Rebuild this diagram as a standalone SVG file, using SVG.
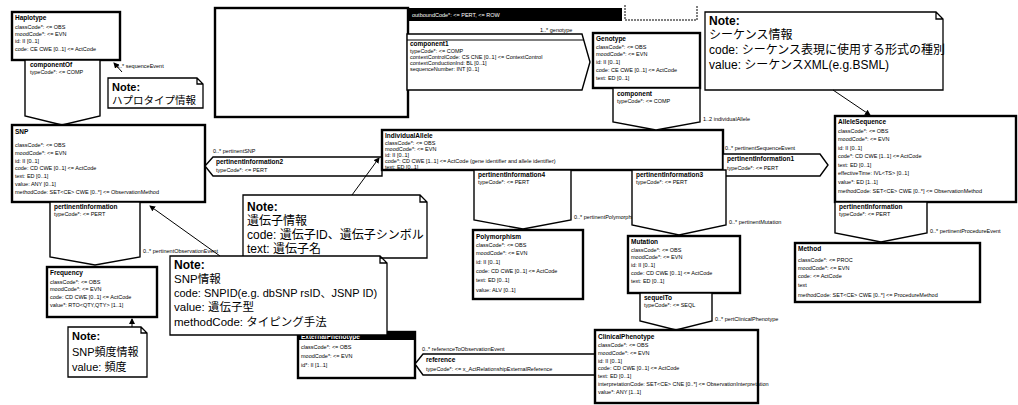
<svg xmlns="http://www.w3.org/2000/svg" width="1018" height="405" viewBox="0 0 1018 405">
<style>
.box{fill:#fff;stroke:#000;stroke-width:2.4}
.arr{fill:#fff;stroke:#000;stroke-width:1.4}
.note{fill:#fff;stroke:#000;stroke-width:1.3}
.t{font-family:"Liberation Sans",sans-serif;font-size:5.5px;fill:#000}
.b{font-family:"Liberation Sans",sans-serif;font-size:6.5px;font-weight:bold;fill:#000}
.nt{font-family:"Liberation Sans","Noto Sans CJK JP",sans-serif;font-size:12px;fill:#000}
.nb{font-family:"Liberation Sans",sans-serif;font-size:12px;font-weight:bold;fill:#000}
.ln{fill:none;stroke:#000;stroke-width:1}
</style>
<defs>
<marker id="ah" markerWidth="6" markerHeight="6" refX="5" refY="3" orient="auto" markerUnits="userSpaceOnUse"><path d="M0,0 L6,3 L0,6 Z" fill="#000"/></marker>
</defs>

<g id="choiceBox">
<rect class="box" x="215" y="8" width="193" height="109"/>
</g>

<g id="topBar">
<rect x="408" y="8" width="214" height="13" fill="#000"/>
<text class="t" x="412" y="16.5" style="fill:#fff">outboundCode*: &lt;= PERT, &lt;= ROW</text>
<path class="ln" d="M625,5 V20 H697 V5" stroke-dasharray="2,1"/>
</g>

<g id="component1">
<polygon class="arr" points="407,34 582,34 590,62 582,90 407,90"/>
<line class="ln" x1="407" y1="40" x2="584" y2="40"/>
<text class="t" x="540" y="32">1..* genotype</text>
<text class="b" x="410" y="46">component1</text>
<text class="t" x="410" y="53">typeCode*: &lt;= COMP</text>
<text class="t" x="410" y="59">contextControlCode: CS CNE [0..1] &lt;= ContextControl</text>
<text class="t" x="410" y="65">contextConductionInd: BL [0..1]</text>
<text class="t" x="410" y="71">sequenceNumber: INT [0..1]</text>
</g>

<g id="Haplotype">
<rect class="box" x="12" y="12" width="108" height="48"/>
<text class="b" x="15" y="20">Haplotype</text>
<text class="t" x="15" y="29">classCode*: &lt;= OBS</text>
<text class="t" x="15" y="36">moodCode*: &lt;= EVN</text>
<text class="t" x="15" y="43">id: II [0..1]</text>
<text class="t" x="15" y="51">code: CE CWE [0..1] &lt;= ActCode</text>
</g>

<g id="componentOf">
<polygon class="arr" points="25,60 100,60 100,116 62,125 25,116"/>
<text class="b" x="30" y="67">componentOf</text>
<text class="t" x="30" y="74">typeCode*: &lt;= COMP</text>
<text class="t" x="116" y="68">0..* sequenceEvent</text>
</g>

<g id="noteHaplotype">
<path class="note" d="M108,78 H197 L203,84 V108 H108 Z M197,78 V84 H203"/>
<text class="nb" x="112" y="91" style="font-size:11px">Note:</text>
<text class="nt" x="112" y="104" style="font-size:10.5px">ハプロタイプ情報</text>
</g>

<g id="SNP">
<rect class="box" x="12" y="125" width="193" height="77"/>
<text class="b" x="15" y="134">SNP</text>
<text class="t" x="15" y="147">classCode*: &lt;= OBS</text>
<text class="t" x="15" y="155">moodCode*: &lt;= EVN</text>
<text class="t" x="15" y="163">id: II [0..1]</text>
<text class="t" x="15" y="170">code: CD CWE [0..1] &lt;= ActCode</text>
<text class="t" x="15" y="178">text: ED [0..1]</text>
<text class="t" x="15" y="186">value: ANY [0..1]</text>
<text class="t" x="15" y="194">methodCode: SET&lt;CE&gt; CWE [0..*] &lt;= ObservationMethod</text>
</g>

<g id="pertinentInformation">
<polygon class="arr" points="50,202 140,202 140,257 95,265 50,257"/>
<text class="b" x="54" y="209">pertinentInformation</text>
<text class="t" x="54" y="216">typeCode*: &lt;= PERT</text>
<text class="t" x="143" y="253">0..* pertinentObservationEvent</text>
</g>

<g id="Frequency">
<rect class="box" x="47" y="267" width="110" height="50"/>
<text class="b" x="50" y="275">Frequency</text>
<text class="t" x="50" y="284">classCode*: &lt;= OBS</text>
<text class="t" x="50" y="291">moodCode*: &lt;= EVN</text>
<text class="t" x="50" y="299">code: CD CWE [0..1] &lt;= ActCode</text>
<text class="t" x="50" y="307">value*: RTO&lt;QTY,QTY&gt; [1..1]</text>
</g>

<g id="noteFrequency">
<path class="note" d="M68,327 H141 L147,333 V377 H68 Z M141,327 V333 H147"/>
<text class="nb" x="72" y="340" style="font-size:11px">Note:</text>
<text class="nt" x="72" y="356" style="font-size:11px">SNP頻度情報</text>
<text class="nt" x="72" y="371" style="font-size:11px">value: 頻度</text>
</g>

<g id="pertinentInformation2">
<polygon class="arr" points="205,166 213,157 382,157 382,176 213,176"/>
<text class="t" x="213" y="153">0..* pertinentSNP</text>
<text class="b" x="216" y="164">pertinentInformation2</text>
<text class="t" x="216" y="172">typeCode*: &lt;= PERT</text>
</g>

<g id="IndividualAllele">
<rect class="box" x="382" y="130" width="341" height="40"/>
<text class="b" x="385" y="138">IndividualAllele</text>
<text class="t" x="385" y="145">classCode*: &lt;= OBS</text>
<text class="t" x="385" y="151">moodCode*: &lt;= EVN</text>
<text class="t" x="385" y="157">id: II [0..1]</text>
<text class="t" x="385" y="163">code*: CD CWE [1..1] &lt;= ActCode (gene identifier and allele identifier)</text>
<text class="t" x="385" y="169">text: ED [0..1]</text>
</g>

<g id="noteGene">
<path class="note" d="M243,195 H420 L427,202 V258 H243 Z M420,195 V202 H427"/>
<text class="nb" x="247" y="211">Note:</text>
<text class="nt" x="247" y="225">遺伝子情報</text>
<text class="nt" x="247" y="239">code: 遺伝子ID、遺伝子シンボル</text>
<text class="nt" x="247" y="253">text: 遺伝子名</text>
</g>

<g id="ExternalPhenotype">
<rect class="box" x="298" y="332" width="117" height="46"/>
<rect x="298" y="332" width="117" height="8" fill="#000"/>
<text class="b" x="301" y="338.5" style="fill:#fff">ExternalPhenotype</text>
<text class="t" x="301" y="349">classCode*: &lt;= OBS</text>
<text class="t" x="301" y="358">moodCode*: &lt;= EVN</text>
<text class="t" x="301" y="367">id*: II [1..1]</text>
</g>

<g id="noteSNP">
<path class="note" d="M170,256 H380 L387,263 V335 H170 Z M380,256 V263 H387"/>
<text class="nb" x="174" y="269">Note:</text>
<text class="nt" x="174" y="283" style="font-size:11.5px">SNP情報</text>
<text class="nt" x="174" y="297" style="font-size:11px">code: SNPID(e.g. dbSNP rsID、JSNP ID)</text>
<text class="nt" x="174" y="311" style="font-size:11.5px">value: 遺伝子型</text>
<text class="nt" x="174" y="326" style="font-size:11.5px">methodCode: タイピング手法</text>
</g>

<g id="reference">
<polygon class="arr" points="415,364 423,354 595,354 595,375 423,375"/>
<text class="t" x="422" y="351">0..* referenceToObservationEvent</text>
<text class="b" x="426" y="362">reference</text>
<text class="t" x="426" y="371">typeCode*: &lt;= x_ActRelationshipExternalReference</text>
</g>

<g id="Genotype">
<rect class="box" x="593" y="33" width="107" height="55"/>
<text class="b" x="596" y="41">Genotype</text>
<text class="t" x="596" y="49">classCode*: &lt;= OBS</text>
<text class="t" x="596" y="56">moodCode*: &lt;= EVN</text>
<text class="t" x="596" y="64">id: II [0..1]</text>
<text class="t" x="596" y="72">code: CE CWE [0..1] &lt;= ActCode</text>
<text class="t" x="596" y="80">text: ED [0..1]</text>
</g>

<g id="component">
<polygon class="arr" points="613,88 700,88 700,122 656,130 613,122"/>
<text class="b" x="617" y="96">component</text>
<text class="t" x="617" y="103">typeCode*: &lt;= COMP</text>
<text class="t" x="703" y="121">1..2 individualAllele</text>
</g>

<g id="noteSequence">
<path class="note" d="M705,12 H936 L943,19 V90 H705 Z M936,12 V19 H943"/>
<text class="nb" x="709" y="25">Note:</text>
<text class="nt" x="709" y="39">シーケンス情報</text>
<text class="nt" x="709" y="54">code: シーケンス表現に使用する形式の種別</text>
<text class="nt" x="709" y="69">value: シーケンスXML(e.g.BSML)</text>
</g>

<g id="pertinentInformation1">
<polygon class="arr" points="723,154 820,154 828,165 820,176 723,176"/>
<text class="t" x="725" y="150">0..* pertinentSequenceEvent</text>
<text class="b" x="727" y="161">pertinentInformation1</text>
<text class="t" x="727" y="170">typeCode*: &lt;= PERT</text>
</g>

<g id="AlleleSequence">
<rect class="box" x="835" y="116" width="181" height="86"/>
<text class="b" x="838" y="124">AlleleSequence</text>
<text class="t" x="838" y="133">classCode*: &lt;= OBS</text>
<text class="t" x="838" y="141">moodCode*: &lt;= EVN</text>
<text class="t" x="838" y="150">id: II [0..1]</text>
<text class="t" x="838" y="158">code*: CD CWE [1..1] &lt;= ActCode</text>
<text class="t" x="838" y="167">text: ED [0..1]</text>
<text class="t" x="838" y="175">effectiveTime: IVL&lt;TS&gt; [0..1]</text>
<text class="t" x="838" y="184">value*: ED [1..1]</text>
<text class="t" x="838" y="193">methodCode: SET&lt;CE&gt; CWE [0..*] &lt;= ObservationMethod</text>
</g>

<g id="pertinentInformationSeq">
<polygon class="arr" points="835,202 927,202 927,233 881,242 835,233"/>
<text class="b" x="839" y="209">pertinentInformation</text>
<text class="t" x="839" y="216">typeCode*: &lt;= PERT</text>
<text class="t" x="930" y="233">0..* pertinentProcedureEvent</text>
</g>

<g id="Method">
<rect class="box" x="795" y="243" width="185" height="59"/>
<text class="b" x="798" y="251">Method</text>
<text class="t" x="798" y="262">classCode*: &lt;= PROC</text>
<text class="t" x="798" y="270">moodCode*: &lt;= EVN</text>
<text class="t" x="798" y="278">code: &lt;= ActCode</text>
<text class="t" x="798" y="287">text</text>
<text class="t" x="798" y="297">methodCode: SET&lt;CE&gt; CWE [0..*] &lt;= ProcedureMethod</text>
</g>

<g id="pertinentInformation4">
<polygon class="arr" points="474,170 571,170 571,220 523,229 474,220"/>
<text class="b" x="478" y="177">pertinentInformation4</text>
<text class="t" x="478" y="184">typeCode*: &lt;= PERT</text>
<text class="t" x="574" y="219">0..* pertinentPolymorphism</text>
</g>

<g id="Polymorphism">
<rect class="box" x="473" y="230" width="110" height="69"/>
<text class="b" x="476" y="239">Polymorphism</text>
<text class="t" x="476" y="247">classCode*: &lt;= OBS</text>
<text class="t" x="476" y="255">moodCode*: &lt;= EVN</text>
<text class="t" x="476" y="264">id: II [0..1]</text>
<text class="t" x="476" y="273">code: CD CWE [0..1] &lt;= ActCode</text>
<text class="t" x="476" y="282">text: ED [0..1]</text>
<text class="t" x="476" y="292">value: ALV [0..1]</text>
</g>

<g id="pertinentInformation3">
<polygon class="arr" points="632,170 726,170 726,225 679,235 632,225"/>
<text class="b" x="636" y="177">pertinentInformation3</text>
<text class="t" x="636" y="184">typeCode*: &lt;= PERT</text>
<text class="t" x="729" y="224">0..* pertinentMutation</text>
</g>

<g id="Mutation">
<rect class="box" x="628" y="236" width="112" height="57"/>
<text class="b" x="631" y="244">Mutation</text>
<text class="t" x="631" y="252">classCode*: &lt;= OBS</text>
<text class="t" x="631" y="259">moodCode*: &lt;= EVN</text>
<text class="t" x="631" y="267">id: II [0..1]</text>
<text class="t" x="631" y="275">code: CD CWE [0..1] &lt;= ActCode</text>
<text class="t" x="631" y="283">text: ED [0..1]</text>
</g>

<g id="sequelTo">
<polygon class="arr" points="640,293 712,293 712,321 676,330 640,321"/>
<text class="b" x="644" y="300">sequelTo</text>
<text class="t" x="644" y="307">typeCode*: &lt;= SEQL</text>
<text class="t" x="715" y="321">0..* pertClinicalPhenotype</text>
</g>

<g id="ClinicalPhenotype">
<rect class="box" x="595" y="330" width="163" height="73"/>
<text class="b" x="598" y="339">ClinicalPhenotype</text>
<text class="t" x="598" y="347">classCode*: &lt;= OBS</text>
<text class="t" x="598" y="355">moodCode*: &lt;= EVN</text>
<text class="t" x="598" y="363">id: II [0..1]</text>
<text class="t" x="598" y="370">code: CD CWE [0..1] &lt;= ActCode</text>
<text class="t" x="598" y="378">text: ED [0..1]</text>
<text class="t" x="598" y="386">interpretationCode: SET&lt;CE&gt; CNE [0..*] &lt;= ObservationInterpretation</text>
<text class="t" x="598" y="394">value*: ANY [1..1]</text>
</g>

<g id="connectors">
<line class="ln" x1="122" y1="72" x2="114" y2="63" marker-end="url(#ah)"/>
<line class="ln" x1="220" y1="256" x2="150" y2="206" marker-end="url(#ah)"/>
<line class="ln" x1="132" y1="327" x2="132" y2="319" marker-end="url(#ah)"/>
<line class="ln" x1="352" y1="195" x2="379" y2="158" marker-end="url(#ah)"/>
<line class="ln" x1="833" y1="90" x2="870" y2="115" marker-end="url(#ah)"/>
</g>
</svg>
